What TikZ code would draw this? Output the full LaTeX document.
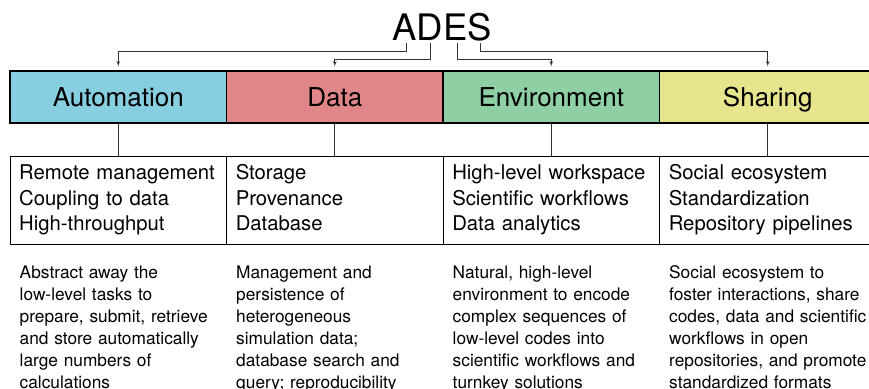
\documentclass[tikz,border=0pt]{standalone}
\usepackage{fontspec}
\setmainfont{TeX Gyre Heros}
\usetikzlibrary{shapes,arrows,positioning}
\definecolor{autoblue}{RGB}{135,207,224}
\definecolor{datared}{RGB}{224,134,136}
\definecolor{envgreen}{RGB}{143,207,164}
\definecolor{shareyellow}{RGB}{230,228,141}
\tikzstyle{catbox} = [rectangle, draw, line width=1.2pt, minimum width=216.5pt,
    minimum height=52pt, inner sep=0pt, text height=19pt, text depth=0pt,
    font=\fontsize{26}{30}\selectfont]
\tikzstyle{listbox} = [rectangle, draw, line width=1pt, minimum width=216.5pt,
    minimum height=88pt, text width=198pt, inner xsep=9.25pt, align=left,
    font=\fontsize{20.3}{25.5}\selectfont,
    execute at begin node={\hyphenpenalty=10000\relax\strut}, execute at end node=\strut]
\tikzstyle{desc} = [text width=210pt, inner sep=0pt, align=left,
    font=\fontsize{17.3}{22}\selectfont]
\tikzstyle{line} = [draw, line width=0.8pt, black!80]
\tikzstyle{branch} = [line, -latex', shorten >=4pt]

\begin{document}
\begin{tikzpicture}[x=1pt, y=-1pt, node distance=216.5pt]
		\path [use as bounding box, clip] (0,0) rectangle (869,388);

		\node [anchor=base, font=\fontsize{36.5}{40}\selectfont] (ades) at (442,40) {ADES};
		\coordinate (lA) at (406,43);
		\coordinate (lD) at (430,43);
		\coordinate (lE) at (457,43);
		\coordinate (lS) at (480,43);

		\node [catbox, fill=autoblue] (auto) at (118.25,97) {Automation};
		\node [catbox, fill=datared, right of=auto] (data) {Data};
		\node [catbox, fill=envgreen, right of=data] (env) {Environment};
		\node [catbox, fill=shareyellow, right of=env] (share) {Sharing};

		\node [listbox, below=32pt of auto] (autolist) {Remote management\\Coupling to data\\High-throughput};
		\node [listbox, below=32pt of data] (datalist) {Storage\\Provenance\\Database};
		\node [listbox, below=32pt of env] (envlist) {High-level workspace\\Scientific workflows\\Data analytics};
		\node [listbox, below=32pt of share] (sharelist) {Social ecosystem\\Standardization\\Repository pipelines};

		\node [desc, below right=21pt and 10pt of autolist.south west] (autotext) {Abstract away the\\low-level tasks to\\prepare, submit, retrieve\\and store automatically\\large numbers of\\calculations};
		\node [desc, below right=21pt and 10pt of datalist.south west] (datatext) {Management and\\persistence of\\heterogeneous\\simulation data;\\database search and\\query; reproducibility};
		\node [desc, below right=21pt and 10pt of envlist.south west] (envtext) {Natural, high-level\\environment to encode\\complex sequences of\\low-level codes into\\scientific workflows and\\turnkey solutions};
		\node [desc, below right=21pt and 10pt of sharelist.south west] (sharetext) {Social ecosystem to\\foster interactions, share\\codes, data and scientific\\workflows in open\\repositories, and promote\\standardized formats};

		\path [branch] (lA) -- ++(0,8) -| (auto.north);
		\path [branch] (lD) -- ++(0,16) -| (data.north);
		\path [branch] (lE) -- ++(0,16) -| (env.north);
		\path [branch] (lS) -- ++(0,8) -| (share.north);

		\path [line] (auto) -- (autolist);
		\path [line] (data) -- (datalist);
		\path [line] (env) -- (envlist);
		\path [line] (share) -- (sharelist);
	\end{tikzpicture}
\end{document}
